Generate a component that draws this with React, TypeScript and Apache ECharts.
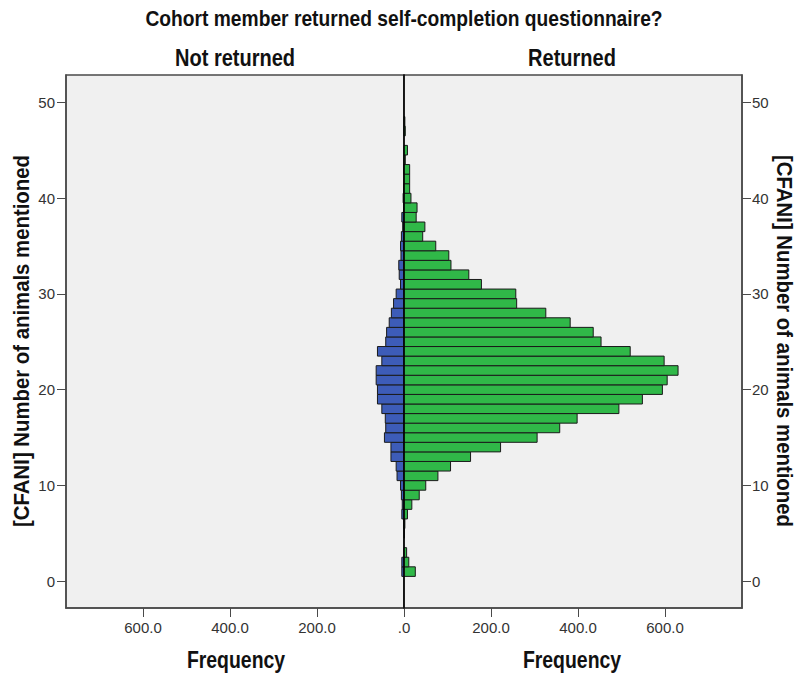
import React, { useEffect, useRef } from "react";
import * as echarts from "echarts";

// Number of animals mentioned (y categories, integer values)
const animalCounts: number[] = Array.from({ length: 49 }, (_, i) => i);

// Frequencies: "Not returned" (left panel, blue)
const notReturned: number[] = [
  0, 5, 5, 0, 0, 0, 1, 5, 4, 6,
  8, 16, 18, 30, 30, 45, 42, 43, 51, 61,
  61, 64, 64, 51, 61, 42, 40, 34, 29, 24,
  18, 8, 11, 12, 7, 8, 6, 3, 5, 1,
  2, 1, 0, 1, 0, 0, 0, 0, 0,
];

// Frequencies: "Returned" (right panel, green)
const returned: number[] = [
  0, 26, 11, 6, 0, 1, 2, 8, 18, 35,
  50, 78, 107, 153, 222, 306, 358, 398, 494, 548,
  594, 605, 630, 598, 520, 453, 435, 382, 326, 259,
  257, 178, 149, 108, 103, 73, 43, 48, 28, 30,
  16, 13, 13, 13, 3, 8, 0, 3, 2,
];

const yTicks: number[] = [0, 10, 20, 30, 40, 50];
const xTicks: number[] = [0, 200, 400, 600];
const panelLabels: string[] = ["Not returned", "Returned"];
const titleText = "Cohort member returned self-completion questionnaire?";
const yAxisName = "[CFANI] Number of animals mentioned";
const xAxisName = "Frequency";

const FONT = "'Liberation Sans', Arial, sans-serif";

export default function App() {
  const ref = useRef<HTMLDivElement>(null);

  useEffect(() => {
    if (!ref.current) return;
    const chart = echarts.init(ref.current, undefined, { renderer: "svg" });

    const renderBar = (color: string) => (params: any, api: any) => {
      const v = api.value(0);
      const y = api.value(1);
      if (!v) return null;
      const p1 = api.coord([0, y - 0.5]);
      const p2 = api.coord([v, y + 0.5]);
      const x = Math.min(p1[0], p2[0]);
      const w = Math.abs(p2[0] - p1[0]);
      const top = Math.min(p1[1], p2[1]);
      const h = Math.abs(p2[1] - p1[1]);
      return {
        type: "rect",
        shape: { x, y: top, width: w, height: h },
        style: { fill: color, stroke: "#1a1a1a", lineWidth: 1 },
      };
    };

    const tickColor = "#4a4a4a";
    const xAxisCommon = {
      type: "value",
      min: 0,
      max: 777,
      splitLine: { show: false },
      axisLine: { show: true, onZero: false, lineStyle: { color: tickColor, width: 1.5 } },
      axisTick: { show: true, length: 9, customValues: xTicks, lineStyle: { color: tickColor } },
    };
    const yAxisCommon = {
      type: "value",
      min: -2.8,
      max: 52.85,
      splitLine: { show: false },
      axisLine: { show: true, onZero: false, lineStyle: { color: tickColor, width: 1.5 } },
      axisTick: { show: true, length: 9, customValues: yTicks, lineStyle: { color: tickColor } },
    };

    const bold = (
      text: string,
      x: number,
      y: number,
      scaleX: number,
      rotation = 0
    ) => ({
      type: "text",
      x,
      y,
      rotation,
      scaleX,
      style: {
        text,
        font: `bold 23px ${FONT}`,
        fill: "#111",
        align: "center",
        verticalAlign: "middle",
      },
    });

    const option: any = {
      animation: false,
      backgroundColor: "#ffffff",
      textStyle: { fontFamily: FONT },
      grid: [
        { left: 66, top: 75, width: 338, height: 533, show: true, backgroundColor: "#f0f0f0", borderColor: tickColor, borderWidth: 1.5 },
        { left: 404, top: 75, width: 338, height: 533, show: true, backgroundColor: "#f0f0f0", borderColor: tickColor, borderWidth: 1.5 },
      ],
      xAxis: [
        {
          ...xAxisCommon,
          gridIndex: 0,
          inverse: true,
          axisLabel: {
            customValues: xTicks,
            margin: 12,
            fontSize: 15,
            color: "#333",
            fontFamily: FONT,
            formatter: (v: number) => (v === 0 ? ".0" : v.toFixed(1)),
          },
        },
        {
          ...xAxisCommon,
          gridIndex: 1,
          axisLabel: {
            customValues: xTicks.filter((v) => v !== 0),
            margin: 12,
            fontSize: 15,
            color: "#333",
            fontFamily: FONT,
            formatter: (v: number) => v.toFixed(1),
          },
        },
      ],
      yAxis: [
        {
          ...yAxisCommon,
          gridIndex: 0,
          position: "left",
          axisLabel: { customValues: yTicks, margin: 11, fontSize: 15, color: "#333", fontFamily: FONT },
        },
        {
          ...yAxisCommon,
          gridIndex: 1,
          position: "right",
          axisLabel: { customValues: yTicks, margin: 10, fontSize: 15, color: "#333", fontFamily: FONT },
        },
        {
          type: "value",
          gridIndex: 1,
          position: "left",
          min: -2.8,
          max: 52.85,
          splitLine: { show: false },
          axisLabel: { show: false },
          axisTick: { show: false },
          axisLine: { show: true, onZero: false, lineStyle: { color: "#000", width: 1.5 } },
          z: 10,
        },
      ],
      series: [
        {
          type: "custom",
          name: panelLabels[0],
          xAxisIndex: 0,
          yAxisIndex: 0,
          renderItem: renderBar("#3d5cb8"),
          encode: { x: 0, y: 1 },
          data: animalCounts.map((y, i) => [notReturned[i], y]),
        },
        {
          type: "custom",
          name: panelLabels[1],
          xAxisIndex: 1,
          yAxisIndex: 1,
          renderItem: renderBar("#30b848"),
          encode: { x: 0, y: 1 },
          data: animalCounts.map((y, i) => [returned[i], y]),
        },
      ],
      graphic: [
        bold(titleText, 404, 18, 0.837),
        bold(panelLabels[0], 235, 58, 0.87),
        bold(panelLabels[1], 572, 58, 0.87),
        bold(xAxisName, 236, 660, 0.845),
        bold(xAxisName, 572, 660, 0.845),
        bold(yAxisName, 21, 341, 0.885, Math.PI / 2),
        bold(yAxisName, 785, 341, 0.885, -Math.PI / 2),
      ],
    };

    chart.setOption(option);
    return () => chart.dispose();
  }, []);

  return (
    <div
      ref={ref}
      style={{ position: "fixed", left: 0, top: 0, width: 798, height: 673 }}
    />
  );
}
